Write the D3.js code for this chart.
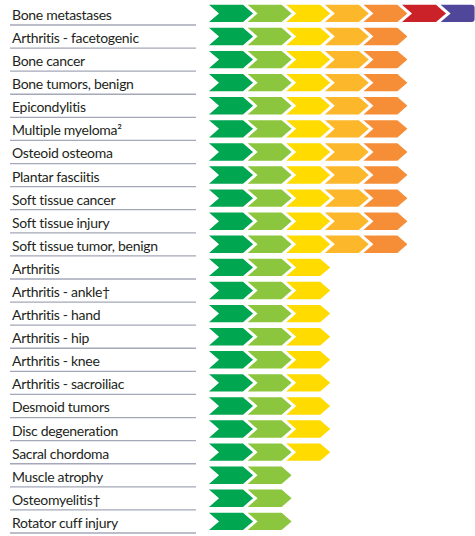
<!DOCTYPE html>
<html><head><meta charset="utf-8">
<script src="https://cdn.jsdelivr.net/npm/d3@7"></script>
<style>body{margin:0;background:#fff}svg{display:block}</style>
</head><body>
<svg id="c" width="475" height="536"></svg>
<script>
const categories = ["Bone metastases","Arthritis - facetogenic","Bone cancer","Bone tumors, benign","Epicondylitis","Multiple myeloma²","Osteoid osteoma","Plantar fasciitis","Soft tissue cancer","Soft tissue injury","Soft tissue tumor, benign","Arthritis","Arthritis - ankle†","Arthritis - hand","Arthritis - hip","Arthritis - knee","Arthritis - sacroiliac","Desmoid tumors","Disc degeneration","Sacral chordoma","Muscle atrophy","Osteomyelitis†","Rotator cuff injury"];
const levels = [7,5,5,5,5,5,5,5,5,5,5,3,3,3,3,3,3,3,3,3,2,2,2];
const levelColors = ["#00a650","#8cc63f","#ffdb00","#fdb72a","#f68e38","#cb2229","#50469a"];

(function() {
const svg = d3.select("#c");
const y = d3.scaleBand().domain(categories).range([1.9, 533]).padding(0);
const x = d3.scaleLinear().domain([0, 7]).range([209, 209 + 7 * 38.6]);
const bodyW = 34, tip = 10, notch = 10;

const rows = svg.selectAll("g.row").data(categories.map((c, i) => ({c, n: levels[i]})))
  .join("g").attr("class", "row").attr("transform", d => `translate(0,${y(d.c)})`);

rows.append("line").attr("x1", 10).attr("x2", 196)
  .attr("y1", y.bandwidth()).attr("y2", y.bandwidth())
  .attr("stroke", "#a4a8b8").attr("stroke-width", 1.3);

rows.append("text").attr("x", 12).attr("y", 18)
  .attr("font-family", "Lato, 'Open Sans', sans-serif").attr("font-size", 14)
  .attr("letter-spacing", -0.3)
  .attr("fill", "#231f20").text(d => d.c);

const yTop = 2.8, yBot = 20.2, yMid = (yTop + yBot) / 2;
rows.each(function(d) {
  const g = d3.select(this);
  const idx = d3.range(d.n);
  g.selectAll("path").data(idx).join("path")
    .attr("fill", i => levelColors[i])
    .attr("d", i => {
      const x0 = x(i);
      if (i === 6) {
        const r = 3, xe = x0 + bodyW;
        return `M${x0},${yTop}L${xe - r},${yTop}Q${xe},${yTop} ${xe},${yTop + r}L${xe},${yBot - r}Q${xe},${yBot} ${xe - r},${yBot}L${x0},${yBot}L${x0 + notch},${yMid}Z`;
      }
      return `M${x0},${yTop}L${x0 + bodyW},${yTop}L${x0 + bodyW + tip},${yMid}L${x0 + bodyW},${yBot}L${x0},${yBot}L${x0 + notch},${yMid}Z`;
    });
});
})();
</script>
</body></html>
